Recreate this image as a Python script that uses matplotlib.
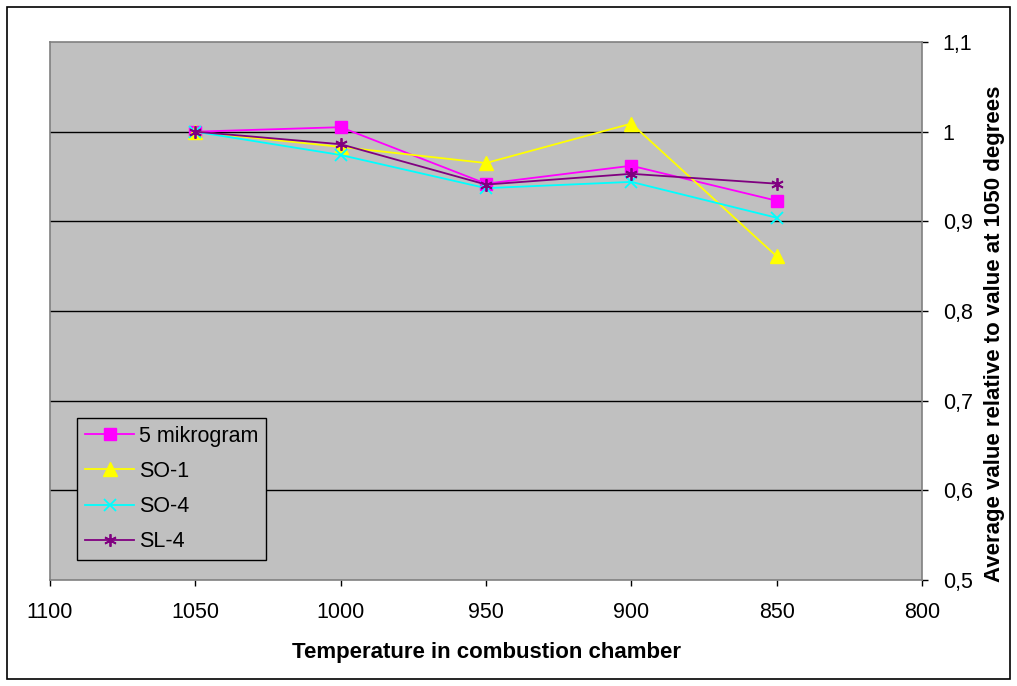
import matplotlib
matplotlib.use("Agg")
import matplotlib.pyplot as plt
from matplotlib.patches import Rectangle

temps = [1050, 1000, 950, 900, 850]
mikrogram5 = [1.0, 1.005, 0.942, 0.962, 0.923]
so1 = [1.0, 0.983, 0.965, 1.009, 0.861]
so4 = [1.0, 0.974, 0.937, 0.944, 0.904]
sl4 = [1.0, 0.986, 0.941, 0.953, 0.942]
series_names = ["5 mikrogram", "SO-1", "SO-4", "SL-4"]
x_ticks = [1100, 1050, 1000, 950, 900, 850, 800]
y_ticks = [0.5, 0.6, 0.7, 0.8, 0.9, 1.0, 1.1]
y_tick_labels = ["0,5", "0,6", "0,7", "0,8", "0,9", "1", "1,1"]

plt.rcParams['font.family'] = ['Liberation Sans', 'DejaVu Sans']

fig = plt.figure(figsize=(10.17, 6.86), dpi=100)
fig.patches.append(Rectangle((7/1017, 7/686), 1003/1017, 672/686, transform=fig.transFigure,
                             fill=False, edgecolor='black', linewidth=1.2))
ax = fig.add_axes([50/1017, 1-580/686, 872/1017, 538/686])
ax.set_facecolor('#C0C0C0')
for s in ax.spines.values():
    s.set_color('#808080')
    s.set_linewidth(1.2)

for yv in y_ticks[1:-1]:
    ax.axhline(yv, color='black', linewidth=1.0, zorder=1)

ax.plot(temps, mikrogram5, color='#FF00FF', marker='s', markersize=8.5, linewidth=1.3, label=series_names[0], zorder=3)
ax.plot(temps, so1, color='#FFFF00', marker='^', markersize=10, linewidth=1.3, label=series_names[1], zorder=3)
ax.plot(temps, so4, color='#00FFFF', marker='x', markersize=8, markeredgewidth=1.3, linewidth=1.3, label=series_names[2], zorder=3)
ax.plot(temps, sl4, color='#800080', marker=(6, 2, 0), markersize=9, markeredgewidth=1.3, linewidth=1.3, label=series_names[3], zorder=3)

ax.set_xlim(1100, 800)
ax.set_ylim(0.5, 1.1)
ax.set_xticks(x_ticks)
ax.set_xticklabels([str(v) for v in x_ticks])
ax.set_yticks(y_ticks)
ax.set_yticklabels(y_tick_labels)
ax.yaxis.tick_right()
ax.yaxis.set_label_position('right')
ax.tick_params(axis='both', direction='out', length=4, width=1, color='black', labelsize=15.5)
ax.tick_params(axis='x', pad=11.5)
ax.tick_params(axis='y', pad=11)
ax.set_xlabel('Temperature in combustion chamber', fontsize=16, fontweight='bold', labelpad=14)
ax.set_ylabel('Average value relative to value at 1050 degrees', fontsize=16, fontweight='bold', rotation=90)
ax.yaxis.set_label_coords((984 - 50) / 872, (580 - 334) / 538)

leg = ax.legend(loc='lower left', bbox_to_anchor=((77-50)/872, (580-560)/538), borderaxespad=0,
                fontsize=15.5, frameon=True, fancybox=False, facecolor='#C0C0C0', edgecolor='black',
                framealpha=1, handlelength=2.3, handletextpad=0.2, borderpad=0.36, labelspacing=0.66)
leg.get_frame().set_linewidth(1.0)

fig.savefig('out.png', dpi=100)
